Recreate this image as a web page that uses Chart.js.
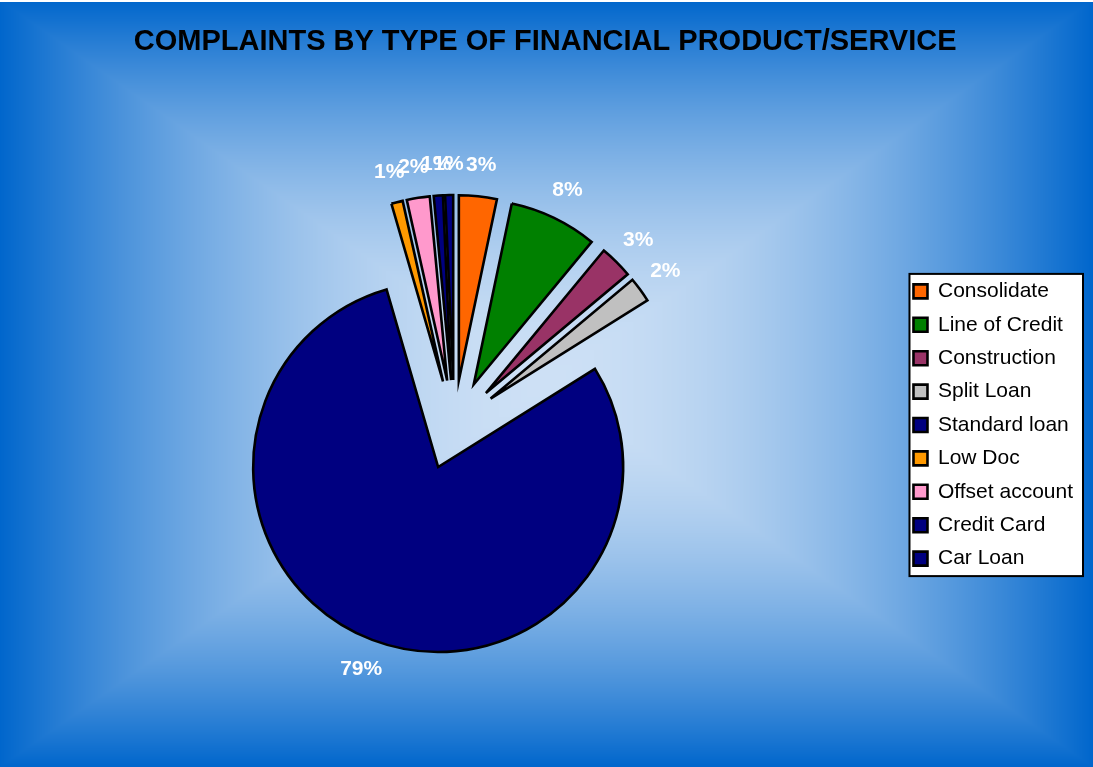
<!DOCTYPE html>
<html>
<head>
<meta charset="utf-8">
<title>Complaints by type of financial product/service</title>
<script src="https://cdn.jsdelivr.net/npm/chart.js@4.4.1/dist/chart.umd.min.js"></script>
<style>
  html, body { margin: 0; padding: 0; background: #0066cc; overflow: hidden; }
  #wrap { width: 1093px; height: 767px; }
</style>
</head>
<body>
<div id="wrap"><canvas id="pieChart" width="1093" height="767"></canvas></div>
<script>
// data (percent of complaints)
const categories = ['Consolidate', 'Line of Credit', 'Construction', 'Split Loan', 'Standard loan',
  'Low Doc', 'Offset account', 'Credit Card', 'Car Loan'];
const shares = [3.3, 7.7, 2.9, 2.2, 79.4, 1.0, 2.0, 0.8, 0.7];
const sliceColors = ['#FF6600', '#008000', '#993366', '#C0C0C0', '#000080',
  '#FF9900', '#FF99CC', '#000080', '#000080'];
const chartTitle = 'COMPLAINTS BY TYPE OF FINANCIAL PRODUCT/SERVICE';

const FONT = "'Liberation Sans', Arial, sans-serif";
const EXPLODE = 45;      // how far every slice is pulled out
const LABEL_GAP = 31;    // distance of the % labels beyond the slice

// rectangular "from center" gradient, light blue in the middle, blue at the edges
const backgroundPlugin = {
  id: 'bgGradient',
  beforeDraw(chart) {
    const ctx = chart.ctx;
    const w = chart.width, h = chart.height;
    if (!this.img || this.img.width !== w) {
      const off = document.createElement('canvas');
      off.width = w; off.height = h;
      const octx = off.getContext('2d');
      const img = octx.createImageData(w, h);
      const cx = w / 2, cy = h / 2;
      const inner = [205, 224, 245], outer = [0, 102, 204];
      for (let py = 0; py < h; py++) {
        for (let px = 0; px < w; px++) {
          let t = Math.min(1, Math.max(Math.abs(px + 0.5 - cx) / cx, Math.abs(py + 0.5 - cy) / cy));
          t = Math.pow(t, 1.8);
          const k = (py * w + px) * 4;
          img.data[k] = inner[0] + (outer[0] - inner[0]) * t;
          img.data[k + 1] = inner[1] + (outer[1] - inner[1]) * t;
          img.data[k + 2] = inner[2] + (outer[2] - inner[2]) * t;
          img.data[k + 3] = 255;
        }
      }
      octx.putImageData(img, 0, 0);
      this.img = off;
    }
    ctx.save();
    ctx.drawImage(this.img, 0, 0);
    ctx.fillStyle = '#ffffff';
    ctx.fillRect(0, 0, w, 2);

    // white framed box behind the legend
    const lg = chart.legend;
    const hb = lg.legendHitBoxes;
    if (hb && hb.length) {
      const last = hb[hb.length - 1];
      const x0 = hb[0].left - 4, y0 = hb[0].top - 7;
      const x1 = lg.right, y1 = last.top + last.height + 7;
      ctx.fillStyle = '#ffffff';
      ctx.fillRect(x0, y0, x1 - x0, y1 - y0);
      ctx.strokeStyle = '#000000';
      ctx.lineWidth = 2;
      ctx.strokeRect(x0, y0, x1 - x0, y1 - y0);
    }
    ctx.restore();
  }
};

// draw each slice pulled out along its middle angle
const explodePlugin = {
  id: 'explode',
  beforeDatasetDraw(chart, args) {
    const ctx = chart.ctx;
    args.meta.data.forEach(arc => {
      const p = arc.getProps(['startAngle', 'endAngle'], true);
      const mid = (p.startAngle + p.endAngle) / 2;
      ctx.save();
      ctx.translate(Math.cos(mid) * EXPLODE, Math.sin(mid) * EXPLODE);
      arc.draw(ctx);
      ctx.restore();
    });
    return false;
  }
};

// percentage labels outside each slice
const percentLabels = {
  id: 'percentLabels',
  afterDatasetsDraw(chart) {
    const ctx = chart.ctx;
    const meta = chart.getDatasetMeta(0);
    const total = shares.reduce((a, b) => a + b, 0);
    ctx.save();
    ctx.font = 'bold 21px ' + FONT;
    ctx.fillStyle = '#ffffff';
    ctx.textAlign = 'center';
    ctx.textBaseline = 'middle';
    meta.data.forEach((arc, i) => {
      const p = arc.getProps(['x', 'y', 'startAngle', 'endAngle', 'outerRadius'], true);
      const mid = (p.startAngle + p.endAngle) / 2;
      const d = p.outerRadius + EXPLODE + LABEL_GAP;
      const pct = Math.round(shares[i] / total * 100) + '%';
      ctx.fillText(pct, p.x + Math.cos(mid) * d, p.y + Math.sin(mid) * d);
    });
    ctx.restore();
  }
};

const ctx = document.getElementById('pieChart').getContext('2d');
new Chart(ctx, {
  type: 'pie',
  data: {
    labels: categories,
    datasets: [{
      data: shares,
      backgroundColor: sliceColors,
      borderColor: '#000000',
      borderWidth: 2.6,
      borderJoinStyle: 'miter',
      radius: 185
    }]
  },
  options: {
    responsive: false,
    animation: false,
    devicePixelRatio: 1,
    radius: 185,
    layout: { padding: { left: 7.3, right: 10, top: 0, bottom: 0 } },
    plugins: {
      title: {
        display: true,
        text: chartTitle,
        color: '#000000',
        font: { family: FONT, size: 29, weight: 'bold', lineHeight: 1.2 },
        padding: { top: 25, bottom: 23.2 }
      },
      legend: {
        position: 'right',
        fullSize: false,
        labels: {
          color: '#000000',
          font: { family: FONT, size: 21 },
          boxWidth: 14,
          boxHeight: 14,
          padding: 12.4
        }
      },
      tooltip: { enabled: false }
    }
  },
  plugins: [backgroundPlugin, explodePlugin, percentLabels]
});
</script>
</body>
</html>
